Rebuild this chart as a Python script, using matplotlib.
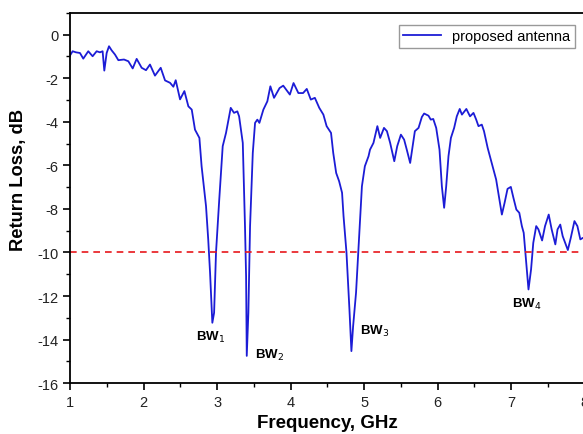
import matplotlib
matplotlib.use("Agg")
import matplotlib.pyplot as plt
from matplotlib.ticker import MultipleLocator

plt.rcParams["font.family"] = ["Liberation Sans", "DejaVu Sans"]
plt.rcParams["axes.unicode_minus"] = False

freq_ghz = [
    1.000, 1.036, 1.082, 1.136, 1.181, 1.249, 1.308, 1.363, 1.408, 1.444,
    1.467, 1.499, 1.531, 1.567, 1.612, 1.658, 1.735, 1.794, 1.853, 1.907,
    1.975, 2.034, 2.088, 2.156, 2.234, 2.293, 2.361, 2.406, 2.438, 2.497,
    2.556, 2.610, 2.656, 2.700, 2.760, 2.790, 2.850, 2.880, 2.905, 2.936,
    2.960, 2.986, 3.030, 3.077, 3.122, 3.186, 3.231, 3.276, 3.300, 3.350,
    3.380, 3.395, 3.404, 3.426, 3.449, 3.486, 3.517, 3.548, 3.576, 3.630,
    3.684, 3.725, 3.775, 3.850, 3.900, 3.956, 3.990, 4.040, 4.106, 4.170,
    4.220, 4.275, 4.330, 4.390, 4.446, 4.490, 4.550, 4.580, 4.620, 4.660,
    4.700, 4.720, 4.760, 4.800, 4.827, 4.850, 4.890, 4.920, 4.970, 5.010,
    5.060, 5.080, 5.127, 5.180, 5.218, 5.270, 5.310, 5.354, 5.410, 5.450,
    5.500, 5.544, 5.580, 5.626, 5.660, 5.690, 5.740, 5.785, 5.816, 5.875,
    5.906, 5.940, 5.980, 6.025, 6.057, 6.088, 6.116, 6.147, 6.180, 6.224,
    6.260, 6.300, 6.330, 6.390, 6.440, 6.487, 6.524, 6.555, 6.600, 6.630,
    6.680, 6.735, 6.795, 6.840, 6.873, 6.910, 6.950, 6.995, 7.030, 7.070,
    7.110, 7.145, 7.170, 7.200, 7.235, 7.270, 7.300, 7.340, 7.370, 7.420,
    7.460, 7.510, 7.550, 7.600, 7.630, 7.667, 7.700, 7.770, 7.810, 7.860,
    7.900, 7.940, 7.975, 8.000,
]
return_loss_db = [
    -0.96, -0.76, -0.81, -0.84, -1.10, -0.76, -0.99, -0.76, -0.81, -0.76,
    -1.65, -0.84, -0.53, -0.72, -0.91, -1.17, -1.14, -1.22, -1.55, -1.11,
    -1.52, -1.63, -1.37, -1.88, -1.52, -2.10, -2.21, -2.39, -2.09, -2.97,
    -2.59, -3.29, -3.44, -4.36, -4.74, -6.04, -7.87, -9.40, -10.93, -13.23,
    -12.77, -10.00, -7.57, -5.12, -4.51, -3.36, -3.59, -3.52, -3.75, -4.97,
    -8.79, -11.09, -14.75, -12.77, -8.79, -5.43, -4.05, -3.90, -4.05, -3.44,
    -3.06, -2.37, -2.90, -2.45, -2.34, -2.60, -2.75, -2.22, -2.68, -2.68,
    -2.49, -2.98, -2.90, -3.36, -3.67, -4.20, -4.51, -5.43, -6.35, -6.73,
    -7.26, -8.33, -10.00, -12.60, -14.53, -13.40, -11.85, -10.00, -6.96, -6.04,
    -5.58, -5.28, -4.97, -4.20, -4.74, -4.28, -4.43, -4.97, -5.81, -5.12,
    -4.59, -4.82, -5.28, -5.89, -5.12, -4.43, -4.28, -3.78, -3.62, -3.72,
    -3.90, -3.87, -4.28, -5.28, -6.96, -7.95, -6.96, -5.58, -4.74, -4.28,
    -3.75, -3.41, -3.67, -3.41, -3.75, -3.59, -3.90, -4.20, -4.13, -4.43,
    -5.20, -5.89, -6.65, -7.57, -8.26, -7.72, -7.08, -6.99, -7.49, -8.03,
    -8.18, -8.79, -9.10, -10.32, -11.70, -10.78, -9.56, -8.79, -8.94, -9.45,
    -8.79, -8.26, -8.94, -9.63, -8.94, -8.72, -9.25, -9.89, -9.33, -8.56,
    -8.79, -9.40, -9.33, -9.35,
]

threshold_db = -10
band_labels = ["BW$_1$", "BW$_2$", "BW$_3$", "BW$_4$"]
band_label_x = [2.72, 3.52, 4.95, 7.01]
band_label_y = [-13.85, -14.7, -13.6, -12.35]


def main() -> None:
    fig = plt.figure(figsize=(5.83, 4.35), dpi=100)
    ax = fig.add_axes([0.120, 0.117, 0.883, 0.851])

    ax.plot(freq_ghz, return_loss_db, color="#1c1cd6", lw=1.3, label="proposed antenna")
    ax.axhline(threshold_db, color="#e8161b", lw=1.2, ls=(0, (4, 3)))

    for text, x, y in zip(band_labels, band_label_x, band_label_y):
        ax.text(x, y, text, fontsize=9.5, fontweight="bold", ha="left", va="center")

    ax.set_xlim(1, 8)
    ax.set_ylim(-16, 1)
    ax.xaxis.set_major_locator(MultipleLocator(1))
    ax.xaxis.set_minor_locator(MultipleLocator(0.5))
    ax.yaxis.set_major_locator(MultipleLocator(2))
    ax.yaxis.set_minor_locator(MultipleLocator(1))
    ax.tick_params(which="major", direction="out", length=5, width=1.2,
                   labelsize=10.5, labelcolor="#222222")
    ax.tick_params(which="minor", direction="out", length=3, width=1.0)
    for side in ax.spines.values():
        side.set_linewidth(1.3)

    ax.set_xlabel("Frequency, GHz", fontsize=13.5, fontweight="bold", labelpad=4)
    ax.set_ylabel("Return Loss, dB", fontsize=13.2, fontweight="bold")
    ax.yaxis.set_label_coords(-0.083, 0.551)

    leg = ax.legend(loc="upper right", bbox_to_anchor=(0.981, 0.968), borderaxespad=0,
                    fontsize=10.5, fancybox=False, handlelength=2.6, borderpad=0.3)
    leg.get_frame().set_edgecolor("#808080")
    leg.get_frame().set_linewidth(1.0)

    fig.savefig("out.png", dpi=100)
    plt.close(fig)


if __name__ == "__main__":
    main()
